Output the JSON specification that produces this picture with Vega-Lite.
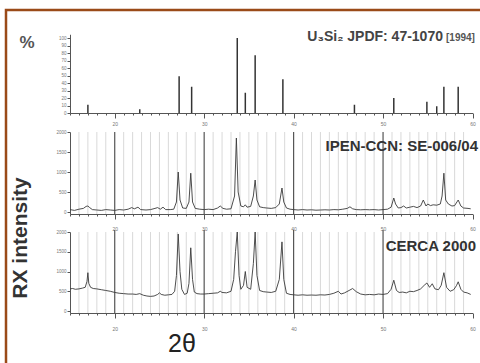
{
  "$schema": "https://vega.github.io/schema/vega-lite/v6.json",
  "width": 476,
  "height": 356,
  "autosize": {"type": "none"},
  "padding": {"left": 6, "top": 10, "right": 0, "bottom": 0},
  "background": "white",
  "config": {
    "view": {"stroke": "#9a4a18", "strokeWidth": 2.5},
    "font": "Liberation Sans",
    "axis": {"labelFont": "Liberation Sans", "domainColor": "#555", "tickColor": "#555", "labelColor": "#777", "grid": false, "title": null}
  },
  "datasets": {
    "sticks": [
      {"t": 17.0, "p": 11}, {"t": 22.8, "p": 5}, {"t": 27.2, "p": 49}, {"t": 28.6, "p": 35},
      {"t": 33.7, "p": 100}, {"t": 34.6, "p": 27}, {"t": 35.7, "p": 77}, {"t": 38.8, "p": 45},
      {"t": 46.8, "p": 11}, {"t": 51.2, "p": 20}, {"t": 54.9, "p": 15}, {"t": 56.0, "p": 9},
      {"t": 56.8, "p": 35}, {"t": 58.4, "p": 35}
    ],
    "lightgrid": [
      {"t": 16}, {"t": 17}, {"t": 18}, {"t": 19}, {"t": 21}, {"t": 22}, {"t": 23}, {"t": 24}, {"t": 25}, {"t": 26}, {"t": 27}, {"t": 28}, {"t": 29},
      {"t": 31}, {"t": 32}, {"t": 33}, {"t": 34}, {"t": 35}, {"t": 36}, {"t": 37}, {"t": 38}, {"t": 39},
      {"t": 41}, {"t": 42}, {"t": 43}, {"t": 44}, {"t": 45}, {"t": 46}, {"t": 47}, {"t": 48}, {"t": 49},
      {"t": 51}, {"t": 52}, {"t": 53}, {"t": 54}, {"t": 55}, {"t": 56}, {"t": 57}, {"t": 58}, {"t": 59}
    ],
    "darkgrid": [{"t": 20}, {"t": 30}, {"t": 40}, {"t": 50}],
    "ipen": [
      {"t": 15.0, "c": 60}, {"t": 15.5, "c": 40}, {"t": 16.0, "c": 70}, {"t": 16.5, "c": 90}, {"t": 16.8, "c": 140}, {"t": 17.0, "c": 150},
      {"t": 17.2, "c": 110}, {"t": 17.5, "c": 60}, {"t": 18.0, "c": 50}, {"t": 18.5, "c": 40}, {"t": 19.0, "c": 60}, {"t": 19.5, "c": 50},
      {"t": 20.0, "c": 40}, {"t": 20.5, "c": 60}, {"t": 21.0, "c": 50}, {"t": 21.5, "c": 70}, {"t": 21.9, "c": 110}, {"t": 22.2, "c": 80},
      {"t": 22.6, "c": 120}, {"t": 22.9, "c": 60}, {"t": 23.5, "c": 50}, {"t": 24.0, "c": 60}, {"t": 24.5, "c": 90}, {"t": 24.8, "c": 110},
      {"t": 25.1, "c": 70}, {"t": 25.4, "c": 120}, {"t": 25.7, "c": 60}, {"t": 26.2, "c": 60}, {"t": 26.6, "c": 70}, {"t": 26.9, "c": 250},
      {"t": 27.1, "c": 1000}, {"t": 27.3, "c": 300}, {"t": 27.6, "c": 100}, {"t": 28.0, "c": 90}, {"t": 28.3, "c": 250}, {"t": 28.5, "c": 970},
      {"t": 28.7, "c": 250}, {"t": 29.0, "c": 90}, {"t": 29.5, "c": 70}, {"t": 30.0, "c": 60}, {"t": 30.5, "c": 70}, {"t": 31.0, "c": 60},
      {"t": 31.5, "c": 100}, {"t": 31.8, "c": 150}, {"t": 32.1, "c": 90}, {"t": 32.5, "c": 70}, {"t": 33.0, "c": 80}, {"t": 33.4, "c": 400},
      {"t": 33.6, "c": 1850}, {"t": 33.8, "c": 500}, {"t": 34.1, "c": 150}, {"t": 34.4, "c": 130}, {"t": 34.6, "c": 180}, {"t": 34.8, "c": 120},
      {"t": 35.2, "c": 140}, {"t": 35.5, "c": 400}, {"t": 35.7, "c": 800}, {"t": 35.9, "c": 300}, {"t": 36.2, "c": 130}, {"t": 36.6, "c": 110},
      {"t": 37.0, "c": 100}, {"t": 37.5, "c": 90}, {"t": 38.0, "c": 110}, {"t": 38.4, "c": 200}, {"t": 38.7, "c": 600}, {"t": 38.9, "c": 250},
      {"t": 39.2, "c": 100}, {"t": 39.6, "c": 70}, {"t": 40.0, "c": 60}, {"t": 40.5, "c": 50}, {"t": 41.0, "c": 60}, {"t": 41.5, "c": 50},
      {"t": 42.0, "c": 55}, {"t": 42.5, "c": 45}, {"t": 43.0, "c": 50}, {"t": 43.5, "c": 55}, {"t": 44.0, "c": 50}, {"t": 44.5, "c": 60},
      {"t": 45.0, "c": 55}, {"t": 45.5, "c": 70}, {"t": 46.0, "c": 90}, {"t": 46.3, "c": 130}, {"t": 46.6, "c": 80}, {"t": 47.0, "c": 60},
      {"t": 47.5, "c": 55}, {"t": 48.0, "c": 60}, {"t": 48.5, "c": 55}, {"t": 49.0, "c": 60}, {"t": 49.5, "c": 50}, {"t": 50.0, "c": 60},
      {"t": 50.5, "c": 70}, {"t": 50.9, "c": 120}, {"t": 51.2, "c": 350}, {"t": 51.4, "c": 200}, {"t": 51.7, "c": 100}, {"t": 52.0, "c": 110},
      {"t": 52.3, "c": 150}, {"t": 52.6, "c": 100}, {"t": 53.0, "c": 120}, {"t": 53.4, "c": 140}, {"t": 53.8, "c": 110}, {"t": 54.2, "c": 150},
      {"t": 54.5, "c": 300}, {"t": 54.8, "c": 150}, {"t": 55.0, "c": 200}, {"t": 55.3, "c": 160}, {"t": 55.6, "c": 180}, {"t": 56.0, "c": 170},
      {"t": 56.4, "c": 200}, {"t": 56.6, "c": 400}, {"t": 56.8, "c": 970}, {"t": 57.0, "c": 300}, {"t": 57.3, "c": 200}, {"t": 57.7, "c": 150},
      {"t": 58.0, "c": 160}, {"t": 58.4, "c": 300}, {"t": 58.7, "c": 150}, {"t": 59.0, "c": 100}, {"t": 59.5, "c": 90}, {"t": 59.8, "c": 80}
    ],
    "cerca": [
      {"t": 15.0, "c": 560}, {"t": 15.3, "c": 570}, {"t": 15.6, "c": 550}, {"t": 16.0, "c": 560}, {"t": 16.4, "c": 580}, {"t": 16.7, "c": 600},
      {"t": 16.9, "c": 750}, {"t": 17.0, "c": 970}, {"t": 17.1, "c": 700}, {"t": 17.3, "c": 600}, {"t": 17.6, "c": 570}, {"t": 18.0, "c": 560},
      {"t": 18.5, "c": 540}, {"t": 19.0, "c": 520}, {"t": 19.5, "c": 500}, {"t": 20.0, "c": 470}, {"t": 20.5, "c": 450}, {"t": 21.0, "c": 440},
      {"t": 21.5, "c": 430}, {"t": 22.0, "c": 430}, {"t": 22.4, "c": 420}, {"t": 22.8, "c": 440}, {"t": 23.2, "c": 400}, {"t": 23.6, "c": 380},
      {"t": 24.0, "c": 370}, {"t": 24.4, "c": 380}, {"t": 24.8, "c": 420}, {"t": 25.0, "c": 460}, {"t": 25.2, "c": 420}, {"t": 25.6, "c": 400},
      {"t": 26.0, "c": 410}, {"t": 26.4, "c": 420}, {"t": 26.7, "c": 500}, {"t": 26.9, "c": 900}, {"t": 27.1, "c": 1950}, {"t": 27.3, "c": 1000},
      {"t": 27.5, "c": 550}, {"t": 27.8, "c": 420}, {"t": 28.1, "c": 450}, {"t": 28.3, "c": 700}, {"t": 28.5, "c": 1600}, {"t": 28.7, "c": 800},
      {"t": 28.9, "c": 480}, {"t": 29.2, "c": 440}, {"t": 29.6, "c": 430}, {"t": 30.0, "c": 430}, {"t": 30.5, "c": 440}, {"t": 31.0, "c": 450},
      {"t": 31.5, "c": 460}, {"t": 31.8, "c": 500}, {"t": 32.0, "c": 470}, {"t": 32.5, "c": 460}, {"t": 33.0, "c": 500}, {"t": 33.3, "c": 800},
      {"t": 33.5, "c": 1500}, {"t": 33.7, "c": 2000}, {"t": 33.9, "c": 900}, {"t": 34.1, "c": 550}, {"t": 34.4, "c": 650}, {"t": 34.6, "c": 1000},
      {"t": 34.8, "c": 600}, {"t": 35.2, "c": 550}, {"t": 35.5, "c": 1200}, {"t": 35.7, "c": 2000}, {"t": 35.9, "c": 900}, {"t": 36.2, "c": 520},
      {"t": 36.6, "c": 490}, {"t": 37.0, "c": 480}, {"t": 37.5, "c": 470}, {"t": 38.0, "c": 500}, {"t": 38.4, "c": 800}, {"t": 38.7, "c": 1750},
      {"t": 38.9, "c": 800}, {"t": 39.2, "c": 450}, {"t": 39.6, "c": 420}, {"t": 40.0, "c": 410}, {"t": 40.5, "c": 400}, {"t": 41.0, "c": 410},
      {"t": 41.5, "c": 400}, {"t": 42.0, "c": 405}, {"t": 42.5, "c": 400}, {"t": 43.0, "c": 410}, {"t": 43.5, "c": 405}, {"t": 44.0, "c": 420},
      {"t": 44.5, "c": 450}, {"t": 45.0, "c": 500}, {"t": 45.3, "c": 430}, {"t": 45.7, "c": 460}, {"t": 46.2, "c": 520}, {"t": 46.6, "c": 570},
      {"t": 47.0, "c": 490}, {"t": 47.5, "c": 430}, {"t": 48.0, "c": 410}, {"t": 48.5, "c": 420}, {"t": 49.0, "c": 410}, {"t": 49.5, "c": 430},
      {"t": 50.0, "c": 420}, {"t": 50.5, "c": 440}, {"t": 50.9, "c": 550}, {"t": 51.2, "c": 780}, {"t": 51.5, "c": 520}, {"t": 51.8, "c": 470},
      {"t": 52.2, "c": 480}, {"t": 52.6, "c": 460}, {"t": 53.0, "c": 500}, {"t": 53.4, "c": 490}, {"t": 53.8, "c": 520}, {"t": 54.2, "c": 560},
      {"t": 54.6, "c": 650}, {"t": 54.9, "c": 710}, {"t": 55.2, "c": 600}, {"t": 55.5, "c": 690}, {"t": 55.8, "c": 560}, {"t": 56.2, "c": 540},
      {"t": 56.5, "c": 650}, {"t": 56.8, "c": 970}, {"t": 57.1, "c": 600}, {"t": 57.5, "c": 500}, {"t": 57.9, "c": 540}, {"t": 58.2, "c": 640},
      {"t": 58.4, "c": 740}, {"t": 58.7, "c": 550}, {"t": 59.0, "c": 480}, {"t": 59.4, "c": 460}, {"t": 59.8, "c": 420}
    ]
  },
  "resolve": {"scale": {"x": "independent", "y": "independent"}, "axis": {"x": "independent", "y": "independent"}},
  "layer": [
    {
      "data": {"name": "sticks"},
      "mark": {"type": "rule", "color": "#333", "strokeWidth": 1.5},
      "encoding": {
        "x": {"field": "t", "type": "quantitative", "scale": {"domain": [15, 60], "range": [64, 466.5], "nice": false, "zero": false},
          "axis": {"orient": "bottom", "offset": -253, "values": [15,16,17,18,19,20,21,22,23,24,25,26,27,28,29,30,31,32,33,34,35,36,37,38,39,40,41,42,43,44,45,46,47,48,49,50,51,52,53,54,55,56,57,58,59,60],
            "labelExpr": "datum.value % 10 === 0 ? datum.label : ''", "labelFontSize": 5, "labelPadding": 3, "labelOverlap": false, "labelFlush": false,
            "tickSize": {"condition": {"test": "datum.value % 10 === 0", "value": 5}, "value": 2}}},
        "y": {"field": "p", "type": "quantitative", "scale": {"domain": [0, 105], "range": [103, 24.25], "nice": false, "zero": false},
          "axis": {"orient": "left", "offset": -64, "values": [0,10,20,30,40,50,60,70,80,90,100], "labelFontSize": 4.5, "tickSize": 3, "labelPadding": 1}},
        "y2": {"datum": 0, "type": "quantitative"}
      }
    },
    {
      "data": {"name": "lightgrid"},
      "mark": {"type": "rule", "color": "#c8c8c8", "strokeWidth": 0.7},
      "encoding": {
        "x": {"field": "t", "type": "quantitative", "scale": {"domain": [15, 60], "range": [64, 466.5], "nice": false, "zero": false}, "axis": null},
        "y": {"datum": -50, "type": "quantitative", "scale": {"domain": [-50, 2000], "range": [204, 122], "nice": false, "zero": false}, "axis": null},
        "y2": {"datum": 2000, "type": "quantitative"}
      }
    },
    {
      "data": {"name": "darkgrid"},
      "mark": {"type": "rule", "color": "#555", "strokeWidth": 1.2},
      "encoding": {
        "x": {"field": "t", "type": "quantitative", "scale": {"domain": [15, 60], "range": [64, 466.5], "nice": false, "zero": false}, "axis": null},
        "y": {"datum": -50, "type": "quantitative", "scale": {"domain": [-50, 2000], "range": [204, 122], "nice": false, "zero": false}, "axis": null},
        "y2": {"datum": 2000, "type": "quantitative"}
      }
    },
    {
      "data": {"name": "ipen"},
      "mark": {"type": "line", "color": "#3a3a3a", "strokeWidth": 0.9},
      "encoding": {
        "x": {"field": "t", "type": "quantitative", "scale": {"domain": [15, 60], "range": [64, 466.5], "nice": false, "zero": false},
          "axis": {"orient": "bottom", "offset": -152, "values": [15,16,17,18,19,20,21,22,23,24,25,26,27,28,29,30,31,32,33,34,35,36,37,38,39,40,41,42,43,44,45,46,47,48,49,50,51,52,53,54,55,56,57,58,59,60],
            "labelExpr": "datum.value % 10 === 0 ? datum.label : ''", "labelFontSize": 5, "labelPadding": 7, "labelOverlap": false, "labelFlush": false,
            "tickSize": {"condition": {"test": "datum.value % 10 === 0", "value": 5}, "value": 2}}},
        "y": {"field": "c", "type": "quantitative", "scale": {"domain": [-50, 2000], "range": [204, 122], "nice": false, "zero": false},
          "axis": {"orient": "left", "offset": -64, "values": [0, 500, 1000, 1500, 2000], "format": "d", "labelFontSize": 4.5, "tickSize": 3, "labelPadding": 1}}
      }
    },
    {
      "data": {"name": "lightgrid"},
      "mark": {"type": "rule", "color": "#c8c8c8", "strokeWidth": 0.7},
      "encoding": {
        "x": {"field": "t", "type": "quantitative", "scale": {"domain": [15, 60], "range": [64, 466.5], "nice": false, "zero": false}, "axis": null},
        "y": {"datum": -50, "type": "quantitative", "scale": {"domain": [-50, 2000], "range": [303, 222], "nice": false, "zero": false}, "axis": null},
        "y2": {"datum": 2000, "type": "quantitative"}
      }
    },
    {
      "data": {"name": "darkgrid"},
      "mark": {"type": "rule", "color": "#555", "strokeWidth": 1.2},
      "encoding": {
        "x": {"field": "t", "type": "quantitative", "scale": {"domain": [15, 60], "range": [64, 466.5], "nice": false, "zero": false}, "axis": null},
        "y": {"datum": -50, "type": "quantitative", "scale": {"domain": [-50, 2000], "range": [303, 222], "nice": false, "zero": false}, "axis": null},
        "y2": {"datum": 2050, "type": "quantitative"}
      }
    },
    {
      "data": {"name": "cerca"},
      "mark": {"type": "line", "color": "#3a3a3a", "strokeWidth": 0.9},
      "encoding": {
        "x": {"field": "t", "type": "quantitative", "scale": {"domain": [15, 60], "range": [64, 466.5], "nice": false, "zero": false},
          "axis": {"orient": "bottom", "offset": -53, "values": [15,16,17,18,19,20,21,22,23,24,25,26,27,28,29,30,31,32,33,34,35,36,37,38,39,40,41,42,43,44,45,46,47,48,49,50,51,52,53,54,55,56,57,58,59,60],
            "labelExpr": "datum.value % 10 === 0 ? datum.label : ''", "labelFontSize": 5, "labelPadding": 8, "labelOverlap": false, "labelFlush": false,
            "tickSize": {"condition": {"test": "datum.value % 10 === 0", "value": 5}, "value": 2}}},
        "y": {"field": "c", "type": "quantitative", "scale": {"domain": [-50, 2000], "range": [303, 222], "nice": false, "zero": false},
          "axis": {"orient": "left", "offset": -64, "values": [0, 500, 1000, 1500, 2000], "format": "d", "labelFontSize": 4.5, "tickSize": 3, "labelPadding": 1}}
      }
    },
    {
      "data": {"values": [{}]},
      "mark": {"type": "text", "text": "U₃Si₂ JPDF: 47-1070", "align": "right", "baseline": "alphabetic", "fontSize": 14, "fontWeight": "bold", "color": "#444"},
      "encoding": {
        "x": {"datum": 56.7, "type": "quantitative", "scale": {"domain": [15, 60], "range": [64, 466.5], "nice": false, "zero": false}, "axis": null},
        "y": {"datum": 96, "type": "quantitative", "scale": {"domain": [0, 105], "range": [103, 24.25], "nice": false, "zero": false}, "axis": null}
      }
    },
    {
      "data": {"values": [{}]},
      "mark": {"type": "text", "text": "[1994]", "align": "left", "baseline": "alphabetic", "fontSize": 10, "fontWeight": "bold", "color": "#555"},
      "encoding": {
        "x": {"datum": 57.04, "type": "quantitative", "scale": {"domain": [15, 60], "range": [64, 466.5], "nice": false, "zero": false}, "axis": null},
        "y": {"datum": 96, "type": "quantitative", "scale": {"domain": [0, 105], "range": [103, 24.25], "nice": false, "zero": false}, "axis": null}
      }
    },
    {
      "data": {"values": [{}]},
      "mark": {"type": "text", "text": "%", "align": "center", "baseline": "middle", "fontSize": 17, "fontWeight": "bold", "color": "#555"},
      "encoding": {
        "x": {"datum": 10.19, "type": "quantitative", "scale": {"domain": [15, 60], "range": [64, 466.5], "nice": false, "zero": false}, "axis": null},
        "y": {"datum": 93.3, "type": "quantitative", "scale": {"domain": [0, 105], "range": [103, 24.25], "nice": false, "zero": false}, "axis": null}
      }
    },
    {
      "data": {"values": [{}]},
      "mark": {"type": "text", "text": "IPEN-CCN: SE-006/04", "align": "right", "baseline": "alphabetic", "fontSize": 15, "fontWeight": "bold", "color": "#333"},
      "encoding": {
        "x": {"datum": 60.62, "type": "quantitative", "scale": {"domain": [15, 60], "range": [64, 466.5], "nice": false, "zero": false}, "axis": null},
        "y": {"datum": 1525, "type": "quantitative", "scale": {"domain": [-50, 2000], "range": [204, 122], "nice": false, "zero": false}, "axis": null}
      }
    },
    {
      "data": {"values": [{}]},
      "mark": {"type": "text", "text": "CERCA 2000", "align": "right", "baseline": "alphabetic", "fontSize": 15, "fontWeight": "bold", "color": "#333"},
      "encoding": {
        "x": {"datum": 60.39, "type": "quantitative", "scale": {"domain": [15, 60], "range": [64, 466.5], "nice": false, "zero": false}, "axis": null},
        "y": {"datum": 1520, "type": "quantitative", "scale": {"domain": [-50, 2000], "range": [303, 222], "nice": false, "zero": false}, "axis": null}
      }
    },
    {
      "data": {"values": [{}]},
      "mark": {"type": "text", "text": "RX intensity", "align": "center", "baseline": "middle", "angle": 270, "fontSize": 21, "fontWeight": "bold", "color": "#333"},
      "encoding": {
        "x": {"datum": 9.52, "type": "quantitative", "scale": {"domain": [15, 60], "range": [64, 466.5], "nice": false, "zero": false}, "axis": null},
        "y": {"datum": 1848, "type": "quantitative", "scale": {"domain": [-50, 2000], "range": [303, 222], "nice": false, "zero": false}, "axis": null}
      }
    },
    {
      "data": {"values": [{}]},
      "mark": {"type": "text", "text": "2θ", "align": "center", "baseline": "middle", "fontSize": 25, "color": "#222"},
      "encoding": {
        "x": {"datum": 27.52, "type": "quantitative", "scale": {"domain": [15, 60], "range": [64, 466.5], "nice": false, "zero": false}, "axis": null},
        "y": {"datum": -835, "type": "quantitative", "scale": {"domain": [-50, 2000], "range": [303, 222], "nice": false, "zero": false}, "axis": null}
      }
    }
  ]
}
